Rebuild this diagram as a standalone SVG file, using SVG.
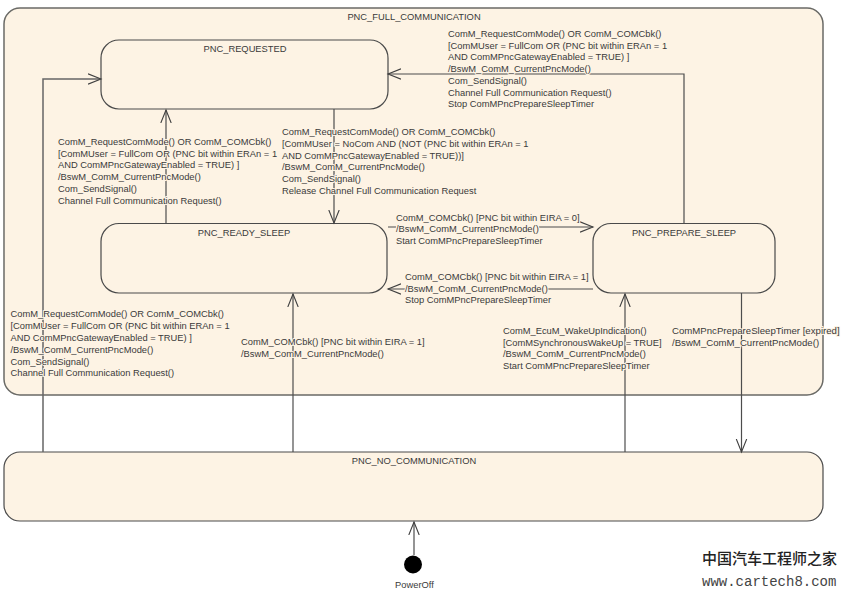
<svg xmlns="http://www.w3.org/2000/svg" width="848" height="596" viewBox="0 0 848 596">
<style>
.st{fill:#fdf3e4;stroke:#4a4a4a;stroke-width:1.2}
.outer{stroke:#6a6a66;stroke-width:1.5}
.t{font-family:"Liberation Sans",Arial,sans-serif;font-size:9.35px;fill:#3a3a3a}
.l{paint-order:stroke;stroke:#fdf3e4;stroke-width:2px;stroke-linejoin:round}
.m{text-anchor:middle}
.c{fill:none;stroke:#4d4d4d;stroke-width:1.2}
.g{stroke:#666;stroke-width:1.5}
.bg{fill:#fdf3e4}
</style>
<defs>
<marker id="a" markerUnits="userSpaceOnUse" markerWidth="15" markerHeight="14" refX="13" refY="7" orient="auto"><path d="M0 1.800L13 7L0 12.200" fill="none" stroke="#404040" stroke-width="1.1"/></marker>
</defs>
<g id="PNC_FULL_COMMUNICATION"><rect class="st outer" x="4" y="8" width="819" height="387" rx="16"/><text class="t m" x="414" y="20">PNC_FULL_COMMUNICATION</text></g>
<g id="PNC_REQUESTED"><rect class="st" x="101" y="40" width="287" height="69" rx="18"/><text class="t m" x="245" y="52">PNC_REQUESTED</text></g>
<g id="PNC_READY_SLEEP"><rect class="st" x="101" y="223.500" width="286" height="69.500" rx="18"/><text class="t m" x="244" y="236">PNC_READY_SLEEP</text></g>
<g id="PNC_PREPARE_SLEEP"><rect class="st" x="593" y="223.500" width="182" height="69.500" rx="18"/><text class="t m" x="684" y="236">PNC_PREPARE_SLEEP</text></g>
<g id="PNC_NO_COMMUNICATION"><rect class="st" x="4" y="452" width="819" height="69" rx="16"/><text class="t m" x="414" y="464">PNC_NO_COMMUNICATION</text></g>
<g id="PowerOff"><circle cx="413" cy="564.500" r="9" fill="#000"/><text class="t m" x="414.500" y="588">PowerOff</text></g>
<g id="connectors">
<path class="c g" d="M43 452V79H101" marker-end="url(#a)"/>
<path class="c" d="M166 223V110" marker-end="url(#a)"/>
<path class="c" d="M334 109V223" marker-end="url(#a)"/>
<path class="c" d="M388 227H593" marker-end="url(#a)"/>
<path class="c" d="M593 289H388" marker-end="url(#a)"/>
<path class="c" d="M684 223V74H388" marker-end="url(#a)"/>
<path class="c" d="M293 452V294" marker-end="url(#a)"/>
<path class="c" d="M625 452V294" marker-end="url(#a)"/>
<path class="c" d="M741.500 293V452" marker-end="url(#a)"/>
<path class="c" d="M414 555V522" marker-end="url(#a)"/>
</g>
<g id="labels">
<rect class="bg" x="396" y="224" width="143" height="9"/>
<rect class="bg" x="405" y="284" width="142" height="9"/>
<text class="t l"><tspan x="58" y="144.500">ComM_RequestComMode() OR ComM_COMCbk()</tspan><tspan x="58" y="156.500">[ComMUser = FullCom OR (PNC bit within ERAn = 1</tspan><tspan x="58" y="168">AND ComMPncGatewayEnabled = TRUE) ]</tspan><tspan x="58" y="180">/BswM_ComM_CurrentPncMode()</tspan><tspan x="58" y="192">Com_SendSignal()</tspan><tspan x="58" y="203.500">Channel Full Communication Request()</tspan></text>
<text class="t l"><tspan x="282" y="135">ComM_RequestComMode() OR ComM_COMCbk()</tspan><tspan x="282" y="146.500">[ComMUser = NoCom AND (NOT (PNC bit within ERAn = 1</tspan><tspan x="282" y="158.500">AND ComMPncGatewayEnabled = TRUE))]</tspan><tspan x="282" y="170">/BswM_ComM_CurrentPncMode()</tspan><tspan x="282" y="181.500">Com_SendSignal()</tspan><tspan x="282" y="193.500">Release Channel Full Communication Request</tspan></text>
<text class="t l"><tspan x="448" y="36.500">ComM_RequestComMode() OR ComM_COMCbk()</tspan><tspan x="448" y="48.500">[ComMUser = FullCom OR (PNC bit within ERAn = 1</tspan><tspan x="448" y="60">AND ComMPncGatewayEnabled = TRUE) ]</tspan><tspan x="448" y="72">/BswM_ComM_CurrentPncMode()</tspan><tspan x="448" y="84">Com_SendSignal()</tspan><tspan x="448" y="95.500">Channel Full Communication Request()</tspan><tspan x="448" y="107">Stop ComMPncPrepareSleepTimer</tspan></text>
<text class="t l"><tspan x="396" y="220.500">ComM_COMCbk() [PNC bit within EIRA = 0]</tspan><tspan x="396" y="232">/BswM_ComM_CurrentPncMode()</tspan><tspan x="396" y="244">Start ComMPncPrepareSleepTimer</tspan></text>
<text class="t l"><tspan x="405" y="279.500">ComM_COMCbk() [PNC bit within EIRA = 1]</tspan><tspan x="405" y="291.500">/BswM_ComM_CurrentPncMode()</tspan><tspan x="405" y="303">Stop ComMPncPrepareSleepTimer</tspan></text>
<text class="t l"><tspan x="10.500" y="317">ComM_RequestComMode() OR ComM_COMCbk()</tspan><tspan x="10.500" y="329">[ComMUser = FullCom OR (PNC bit within ERAn = 1</tspan><tspan x="10.500" y="341">AND ComMPncGatewayEnabled = TRUE) ]</tspan><tspan x="10.500" y="352.500">/BswM_ComM_CurrentPncMode()</tspan><tspan x="10.500" y="364.500">Com_SendSignal()</tspan><tspan x="10.500" y="376">Channel Full Communication Request()</tspan></text>
<text class="t l"><tspan x="241" y="344.500">ComM_COMCbk() [PNC bit within EIRA = 1]</tspan><tspan x="241" y="356.500">/BswM_ComM_CurrentPncMode()</tspan></text>
<text class="t l"><tspan x="503" y="333.500">ComM_EcuM_WakeUpIndication()</tspan><tspan x="503" y="345.500">[ComMSynchronousWakeUp = TRUE]</tspan><tspan x="503" y="357">/BswM_ComM_CurrentPncMode()</tspan><tspan x="503" y="368.500">Start ComMPncPrepareSleepTimer</tspan></text>
<text class="t l" style="font-size:9.650px"><tspan x="672" y="333.500">ComMPncPrepareSleepTimer [expired]</tspan><tspan x="672" y="345.500">/BswM_ComM_CurrentPncMode()</tspan></text>
</g>
<g id="watermark">
<text x="702" y="564" style="font-family:'Noto Sans CJK SC',sans-serif;font-size:15px;font-weight:500;fill:#222">中国汽车工程师之家</text>
<text x="702" y="586" style="font-family:'Liberation Mono',monospace;font-size:14px;fill:#444">www.cartech8.com</text>
</g>
</svg>
